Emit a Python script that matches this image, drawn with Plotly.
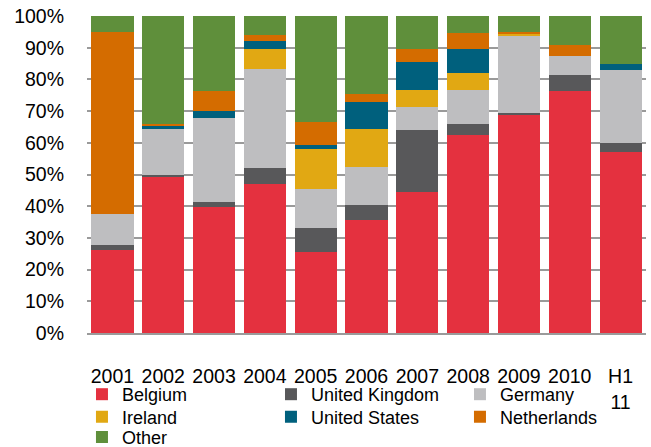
import plotly.graph_objects as go

# Share of the total by country, per year (percent of 100)
years = ["2001", "2002", "2003", "2004", "2005", "2006", "2007", "2008", "2009", "2010", "H1<br>11"]
belgium = [26.3, 49.4, 39.9, 47.1, 25.7, 35.7, 44.6, 62.4, 68.8, 76.2, 57.0]
united_kingdom = [1.5, 0.6, 1.3, 5.1, 7.5, 4.7, 19.5, 3.6, 0.5, 5.2, 3.0]
germany = [9.7, 14.2, 26.6, 31.0, 12.1, 12.0, 7.2, 10.7, 24.6, 6.0, 23.1]
ireland = [0.0, 0.0, 0.0, 6.4, 12.9, 11.8, 5.4, 5.3, 0.6, 0.0, 0.0]
united_states = [0.0, 1.1, 2.3, 2.4, 1.1, 8.8, 8.8, 7.6, 0.0, 0.0, 1.8]
netherlands = [57.6, 0.7, 6.1, 2.0, 7.3, 2.5, 4.1, 4.9, 0.6, 3.6, 0.0]
other = [4.9, 34.0, 23.8, 6.0, 33.4, 24.5, 10.4, 5.5, 4.9, 9.0, 15.1]
y_ticks = list(range(0, 101, 10))
y_tick_labels = [f"{v}%" for v in y_ticks]

series = [
    ("Belgium", belgium, "#E4313F", "legend"),
    ("United Kingdom", united_kingdom, "#58585A", "legend"),
    ("Germany", germany, "#BEBEC0", "legend"),
    ("Ireland", ireland, "#E1A813", "legend2"),
    ("United States", united_states, "#00607D", "legend2"),
    ("Netherlands", netherlands, "#D46C00", "legend2"),
    ("Other", other, "#5F8F3B", "legend3"),
]

FONT = "Liberation Sans, Arial, sans-serif"

fig = go.Figure()
for name, vals, color, leg in series:
    fig.add_trace(go.Bar(
        x=years, y=vals, name=name, legend=leg,
        marker=dict(color=color, line=dict(width=0)),
    ))

legend_common = dict(
    orientation="h", xref="paper", yref="paper", x=-0.009, xanchor="left",
    yanchor="middle", bgcolor="rgba(0,0,0,0)", borderwidth=0,
    font=dict(family=FONT, size=18, color="#000000"),
    entrywidth=144, entrywidthmode="pixels", itemclick=False,
    traceorder="normal",
)

fig.update_layout(
    width=651, height=447,
    margin=dict(l=87, r=5, t=16, b=114, autoexpand=False),
    paper_bgcolor="white", plot_bgcolor="white",
    barmode="stack", bargap=0.17,
    font=dict(family=FONT, size=19.5, color="#000000"),
    legend=dict(legend_common, y=-0.194),
    legend2=dict(legend_common, y=-0.265),
    legend3=dict(legend_common, y=-0.329),
    xaxis=dict(
        type="category", showgrid=False, zeroline=False,
        showline=True, linecolor="#9A9A9A", linewidth=2,
        ticks="", ticklabelstandoff=25,
        tickfont=dict(family=FONT, size=19.5),
    ),
    yaxis=dict(
        range=[0, 100], tickmode="array", tickvals=y_ticks, ticktext=y_tick_labels,
        showgrid=True, gridcolor="#9A9A9A", gridwidth=2,
        zeroline=False, showline=False, ticks="",
        ticklabelstandoff=22,
        tickfont=dict(family=FONT, size=19.5),
    ),
)

fig.write_html("out.html")
